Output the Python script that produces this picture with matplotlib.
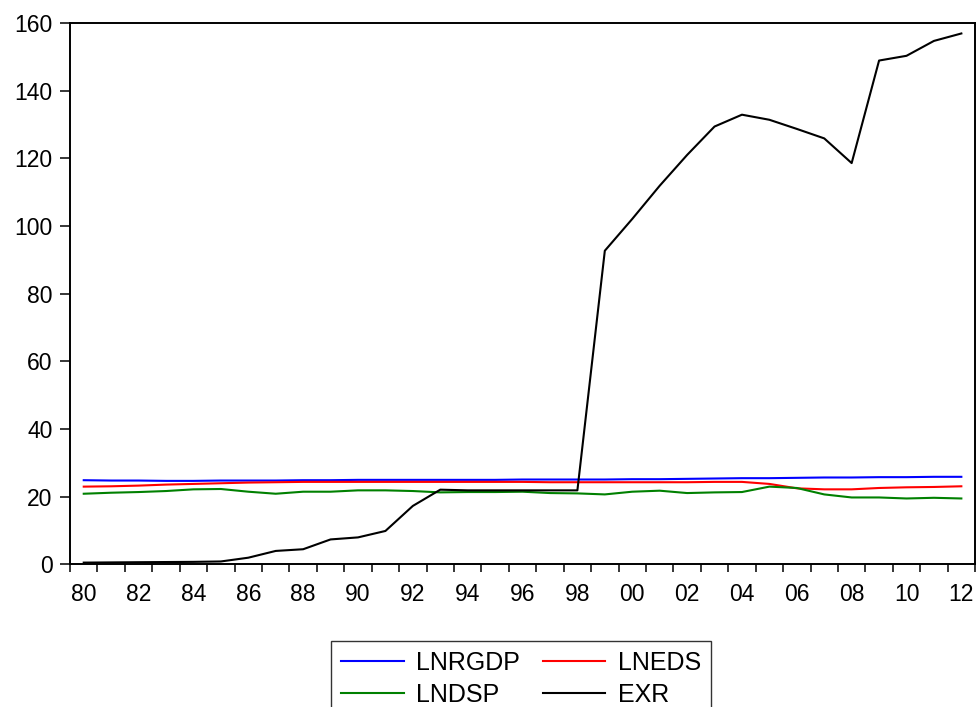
import numpy as np
import matplotlib.pyplot as plt

plt.rcParams['font.family'] = ['Liberation Sans', 'DejaVu Sans']

years = list(range(1980, 2013))

lnrgdp = [24.9, 24.8, 24.8, 24.7, 24.7, 24.8, 24.8, 24.8, 24.9, 24.9, 25.0,
          25.0, 25.0, 25.0, 25.0, 25.0, 25.1, 25.1, 25.1, 25.1, 25.2, 25.2,
          25.3, 25.4, 25.5, 25.5, 25.6, 25.7, 25.7, 25.8, 25.8, 25.9, 25.9]
lneds = [23.0, 23.1, 23.3, 23.6, 23.8, 24.0, 24.2, 24.3, 24.4, 24.4, 24.4,
         24.4, 24.4, 24.4, 24.4, 24.4, 24.4, 24.3, 24.3, 24.3, 24.3, 24.3,
         24.3, 24.4, 24.4, 23.8, 22.5, 22.2, 22.2, 22.6, 22.8, 22.9, 23.1]
lndsp = [20.9, 21.2, 21.4, 21.7, 22.2, 22.3, 21.5, 20.9, 21.5, 21.5, 21.9,
         21.9, 21.7, 21.3, 21.4, 21.4, 21.5, 21.1, 21.0, 20.7, 21.5, 21.8,
         21.1, 21.3, 21.4, 23.0, 22.6, 20.7, 19.8, 19.8, 19.5, 19.7, 19.5]
exr = [0.55, 0.61, 0.67, 0.72, 0.77, 0.89, 2.0, 4.0, 4.5, 7.4, 8.0,
       9.9, 17.3, 22.1, 21.9, 21.9, 21.9, 21.9, 21.9, 92.7, 102.1, 111.9,
       121.0, 129.4, 132.9, 131.4, 128.7, 125.9, 118.6, 148.9, 150.3, 154.7, 156.9]

series = [("LNRGDP", lnrgdp, "#0000ff"),
          ("LNEDS", lneds, "#ff0000"),
          ("LNDSP", lndsp, "#008000"),
          ("EXR", exr, "#000000")]

fig = plt.figure(figsize=(9.78, 7.07), dpi=100)
ax = fig.add_axes([0.0716, 0.2016, 0.9254, 0.7659])

x = np.arange(len(years))
lines = {}
for name, vals, col in series:
    lines[name], = ax.plot(x, vals, color=col, lw=1.5, label=name)

ax.set_xlim(-0.5, len(years) - 0.5)
ax.set_ylim(0, 160)

# labels on even years, tick marks at year boundaries
ax.set_xticks(x[::2])
ax.set_xticklabels([str(y)[2:] for y in years[::2]])
ax.set_xticks(np.arange(len(years) + 1) - 0.5, minor=True)
ax.tick_params(axis='x', which='major', length=0, pad=13, labelsize=16.5)
ax.tick_params(axis='x', which='minor', length=6, width=1.1, direction='out')

ax.set_yticks(np.arange(0, 161, 20))
ax.tick_params(axis='y', length=7.5, width=1.1, direction='out', pad=5, labelsize=16.5)

for s in ax.spines.values():
    s.set_linewidth(1.4)

# legend fills by column, so order to get LNRGDP/LNEDS on the first row
order = ["LNRGDP", "LNDSP", "LNEDS", "EXR"]
leg = fig.legend([lines[n] for n in order], order,
                 loc='upper center', bbox_to_anchor=(0.533, 0.093), ncol=2,
                 fontsize=18, frameon=True, fancybox=False, edgecolor='black',
                 handlelength=2.5, handletextpad=0.5, columnspacing=0.9,
                 labelspacing=0.3, borderpad=0.4, borderaxespad=0)
leg.get_frame().set_linewidth(1.0)

fig.savefig("out.png", dpi=100)
